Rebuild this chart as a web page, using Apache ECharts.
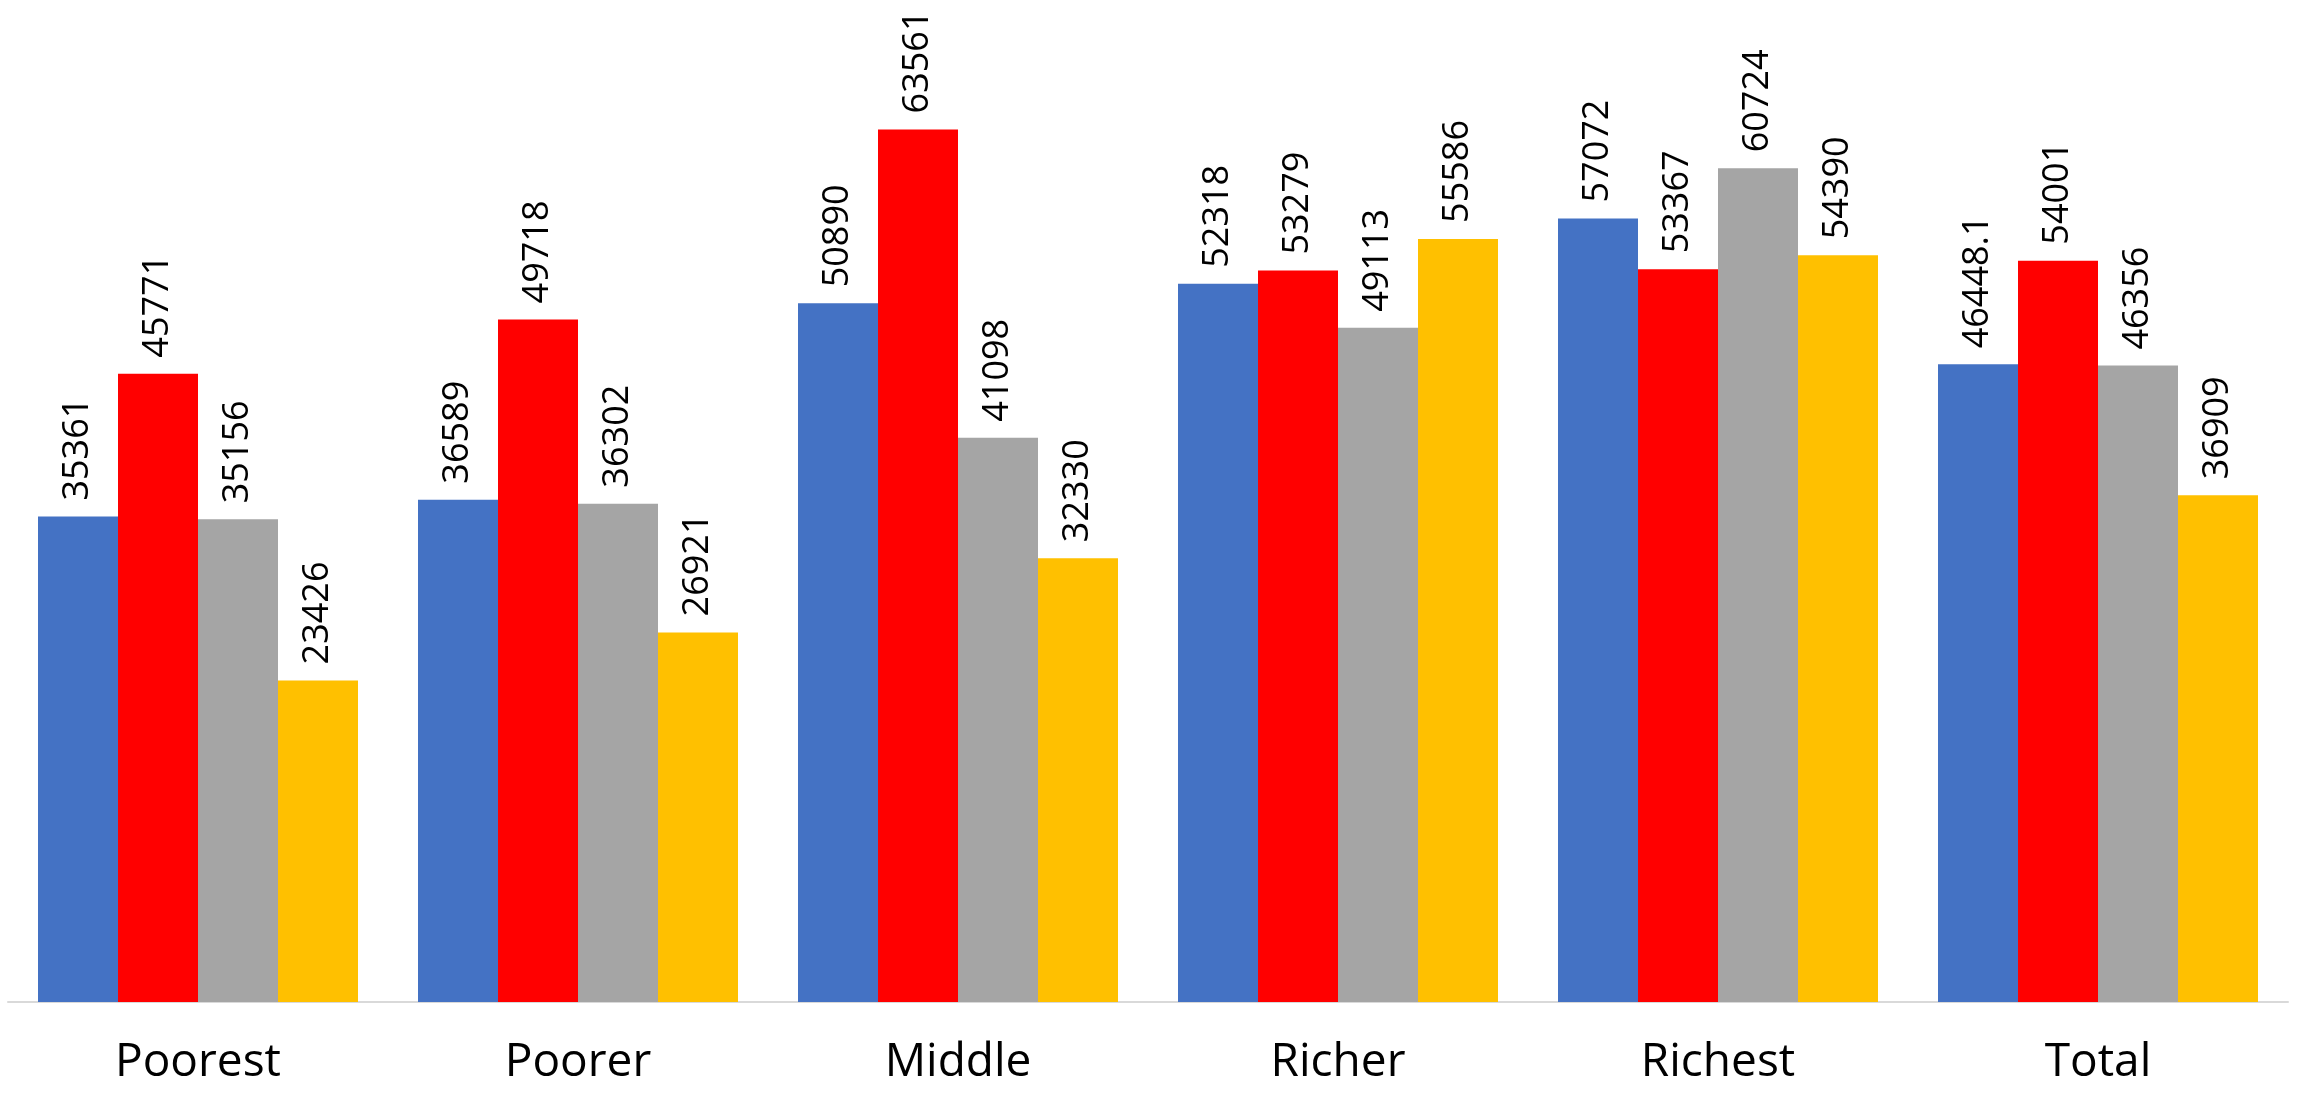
<!DOCTYPE html>
<html>
<head>
<meta charset="utf-8">
<title>Bar chart by wealth group</title>
<script src="https://cdn.jsdelivr.net/npm/echarts@6/dist/echarts.min.js"></script>
<style>
  html, body { margin: 0; padding: 0; background: #ffffff; }
  #chart { width: 2305px; height: 1096px; }
</style>
</head>
<body>
<div id="chart"></div>
<script>
// Wealth groups along the x axis
const categories = ['Poorest', 'Poorer', 'Middle', 'Richer', 'Richest', 'Total'];

// One array per series, in category order
const series1 = [35361, 36589, 50890, 52318, 57072, 46448.1];
const series2 = [45771, 49718, 63561, 53279, 53367, 54001];
const series3 = [35156, 36302, 41098, 49113, 60724, 46356];
const series4 = [23426, 26921, 32330, 55586, 54390, 36909];

const seriesNames = ['Series 1', 'Series 2', 'Series 3', 'Series 4'];
const seriesData = [series1, series2, series3, series4];
const colors = ['#4472C4', '#FF0000', '#A5A5A5', '#FFC000'];

const chart = echarts.init(document.getElementById('chart'), null, { renderer: 'canvas' });

const valueLabel = {
  show: true,
  position: 'top',
  distance: 16,
  rotate: 90,
  align: 'left',
  verticalAlign: 'middle',
  color: '#000000',
  fontFamily: '"Open Sans", sans-serif',
  fontSize: 36,
  formatter: p => String(p.value)
};

chart.setOption({
  animation: false,
  backgroundColor: '#ffffff',
  grid: { left: 8, right: 17, top: 41, bottom: 94, containLabel: false },
  xAxis: {
    type: 'category',
    data: categories,
    axisLine: { show: true, lineStyle: { color: '#D9D9D9', width: 2 } },
    axisTick: { show: false },
    axisLabel: {
      color: '#000000',
      fontFamily: '"Open Sans", sans-serif',
      fontSize: 46,
      margin: 38
    }
  },
  yAxis: {
    type: 'value',
    min: 0,
    max: 70000,
    show: false,
    splitLine: { show: false }
  },
  series: seriesData.map((d, i) => ({
    name: seriesNames[i],
    type: 'bar',
    data: d,
    barGap: '0%',
    barCategoryGap: '15.79%',
    itemStyle: { color: colors[i] },
    label: valueLabel
  }))
});
</script>
</body>
</html>
